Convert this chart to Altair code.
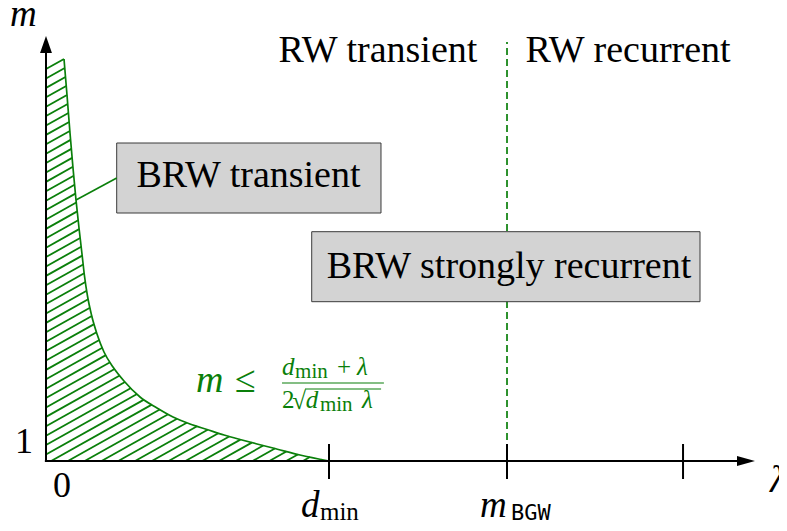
import altair as alt
import pandas as pd
import numpy as np

# ---------------- data ----------------
# boundary curve m = (d_min + λ) / (2 sqrt(d_min λ)); λ in units of d_min
curve_lam = [0.0636, 0.0742, 0.0848, 0.0954, 0.1060, 0.1166, 0.1272, 0.1360,
             0.1466, 0.1608, 0.1802, 0.2049, 0.2367, 0.2756, 0.3322, 0.3922,
             0.4488, 0.5088, 0.5689, 0.6290, 0.6855, 0.7456, 0.8021, 0.8975,
             1.0000]
curve_m = [5.02, 4.66, 4.28, 3.93, 3.61, 3.33, 3.07, 2.85,
           2.65, 2.46, 2.27, 2.09, 1.94, 1.80, 1.64, 1.53,
           1.44, 1.37, 1.315, 1.26, 1.215, 1.17, 1.13, 1.06,
           1.00]

tick_lam = [1.0, 1.629, 2.251]          # d_min, m_BGW, third tick
m_bgw = 1.629

# regime labels
top_labels = ["RW transient", "RW recurrent"]
top_lam = [1.173, 2.057]
top_m = [4.99, 4.99]

box_labels = ["BRW transient", "BRW strongly recurrent"]
box_text_lam = [0.7155, 1.636]
box_text_m = [3.74, 2.83]
box_lam1 = [0.2498, 0.9389]
box_lam2 = [1.1837, 2.311]
box_m1 = [4.18, 3.293]
box_m2 = [3.48, 2.593]

# ---------------- scales ----------------
LMIN, LMAX = -0.13428, 2.5901
MMIN, MMAX = 0.38, 5.53
xs = alt.Scale(domain=[LMIN, LMAX], nice=False, zero=False)
ys = alt.Scale(domain=[MMIN, MMAX], nice=False, zero=False)

GREEN = "#0a7f0a"
SERIF = "Liberation Serif"


def X(f="x"):
    return alt.X(f"{f}:Q", scale=xs, axis=None)


def Y(f="y"):
    return alt.Y(f"{f}:Q", scale=ys, axis=None)


def segs(df, color, width, dash=None):
    kw = dict(color=color, strokeWidth=width)
    if dash:
        kw["strokeDash"] = dash
    return alt.Chart(df).mark_rule(**kw).encode(
        x=X(), y=Y(), x2="x2:Q", y2="y2:Q")


# ---------------- hatch lines (clipped to region under the curve) ----------------
PXX, PXY = 283.0, 100.0      # pixels per unit on each axis
slope, gap = 0.56, 9.4       # hatch direction and spacing (pixels)
cx = np.array(curve_lam) * PXX
cy = (np.array(curve_m) - 1.0) * PXY
grid = np.linspace(cx[0], cx[-1], 6000)
fgrid = np.interp(grid, cx, cy)
rows = []
c = cy[0] - slope * cx[0]
while c > -slope * cx[-1] + 0.5:
    x0 = max(0.0, -c / slope)
    g = fgrid - (c + slope * grid)
    idx = int(np.argmax(g <= 0))
    if idx == 0:
        xe = grid[0]
    else:
        g1, g2 = g[idx - 1], g[idx]
        xe = grid[idx - 1] + (grid[idx] - grid[idx - 1]) * g1 / (g1 - g2)
    rows.append(dict(x=x0 / PXX, y=1 + (c + slope * x0) / PXY,
                     x2=xe / PXX, y2=1 + (c + slope * xe) / PXY))
    c -= gap
hatch = segs(pd.DataFrame(rows), GREEN, 1.8)

curve = alt.Chart(pd.DataFrame({"x": curve_lam, "y": curve_m})).mark_line(
    color=GREEN, strokeWidth=1.7, interpolate="monotone").encode(
    x=X(), y=Y())

# ---------------- axes ----------------
axes = segs(pd.DataFrame({"x": [-0.004, 0.0], "y": [1.0, 0.996],
                          "x2": [2.45, 0.0], "y2": [1.0, 5.10]}), "black", 2)

ticks = segs(pd.DataFrame({"x": tick_lam, "x2": tick_lam,
                           "y": [1.17] * 3, "y2": [0.82] * 3}), "black", 2)

arrow_x = alt.Chart(pd.DataFrame({"x": [2.4735], "y": [1.0]})).mark_point(
    shape="M-1,-0.56L1,0L-1,0.56Z", size=324, filled=True, color="black",
    opacity=1, strokeWidth=0).encode(x=X(), y=Y())
arrow_y = alt.Chart(pd.DataFrame({"x": [0.0], "y": [5.165]})).mark_point(
    shape="M-0.7,1L0,-1L0.7,1Z", size=289, filled=True, color="black",
    opacity=1, strokeWidth=0).encode(x=X(), y=Y())

dashed = segs(pd.DataFrame({"x": [m_bgw], "x2": [m_bgw],
                            "y": [1.21], "y2": [5.19]}), GREEN, 1.7, [7, 4])

# ---------------- boxes ----------------
boxes = alt.Chart(pd.DataFrame({"x": box_lam1, "x2": box_lam2,
                                "y": box_m1, "y2": box_m2})).mark_rect(
    fill="#d3d3d3", stroke="#3a3a3a", strokeWidth=1).encode(
    x=X(), x2="x2:Q", y=Y(), y2="y2:Q")

connector = segs(pd.DataFrame({"x": [0.1060], "y": [3.61],
                               "x2": [0.2498], "y2": [3.83]}), GREEN, 1.6)


def texts(labels, xv, yv, size, style="normal", align="center",
          color="black", font=SERIF):
    df = pd.DataFrame({"x": xv, "y": yv, "t": labels})
    return alt.Chart(df).mark_text(
        font=font, fontSize=size, fontStyle=style, align=align,
        baseline="alphabetic", color=color).encode(x=X(), y=Y(), text="t:N")


t_top = texts(top_labels, top_lam, top_m, 38)
t_box = texts(box_labels, box_text_lam, box_text_m, 38)
t_nums = texts(["1", "0"], [-0.0777, 0.0565], [1.08, 0.64], 36)
t_ital = texts(["m", "d", "m", "λ"], [-0.1272, 0.901, 1.5336, 2.558],
               [5.35, 0.44, 0.44, 0.69], 37, style="italic", align="left")
t_sub = texts(["min"], [0.968], [0.41], 25, align="left")
t_bgw = texts(["BGW"], [1.643], [0.41], 22, align="left",
              font="DejaVu Sans Mono")

# formula  m ≤ (d_min + λ) / (2 √(d_min λ))
f_big_i = texts(["m"], [0.530], [1.69], 38, style="italic", align="left", color=GREEN)
f_big_r = texts(["≤"], [0.668], [1.69], 38, align="left", color=GREEN)
f_it = texts(["d", "λ", "d", "λ"], [0.834, 1.099, 0.918, 1.117],
             [1.86, 1.86, 1.53, 1.53], 25, style="italic", align="left", color=GREEN)
f_rm = texts(["+", "2", "√"], [1.028, 0.834, 0.870], [1.86, 1.53, 1.52], 25,
             align="left", color=GREEN)
f_sub = texts(["min", "min"], [0.880, 0.968], [1.83, 1.50], 21,
              align="left", color=GREEN)
f_bars = segs(pd.DataFrame({"x": [0.834, 0.915], "x2": [1.194, 1.184],
                            "y": [1.78, 1.72], "y2": [1.78, 1.72]}), GREEN, 1.2)

chart = alt.layer(
    hatch, curve, axes, ticks, arrow_x, arrow_y, dashed, boxes, connector,
    t_top, t_box, t_nums, t_ital, t_sub, t_bgw,
    f_big_i, f_big_r, f_it, f_rm, f_sub, f_bars,
).properties(
    width=771, height=515, padding=0,
    autosize=alt.AutoSizeParams(type="none"),
).configure_view(stroke=None)

chart.save("out.html", embed_options={"renderer": "svg", "actions": False})
